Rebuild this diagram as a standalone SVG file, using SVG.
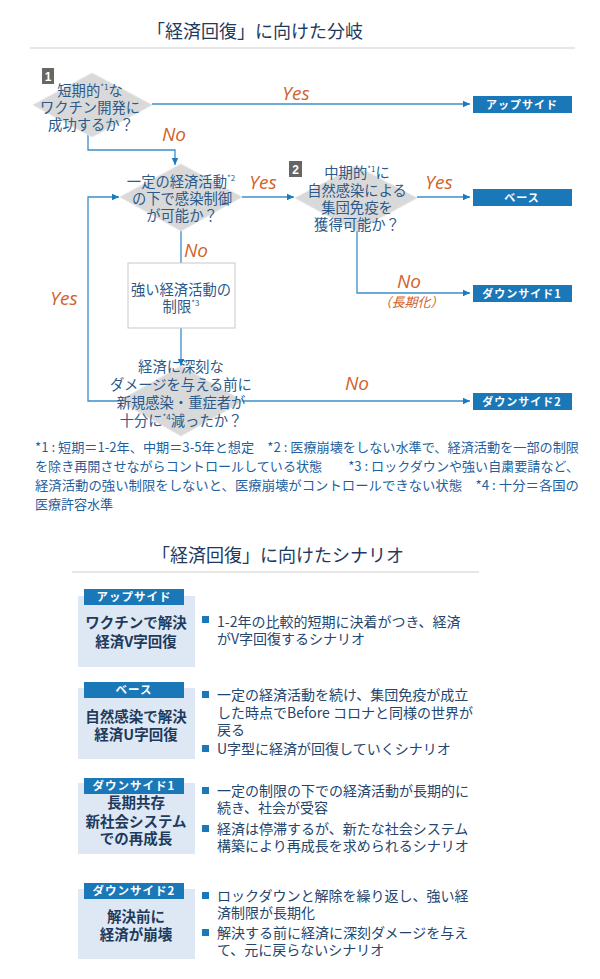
<svg xmlns="http://www.w3.org/2000/svg" width="600" height="979" viewBox="0 0 600 979">
<style>
text{font-family:"Noto Sans CJK JP","Noto Sans",sans-serif}
.title{font-size:18px;fill:#1e3a5c;text-anchor:middle}
.rule{stroke:#cfcfcf;stroke-width:1.2}
.dia{fill:#d9d9d9;stroke:#e6e6e6;stroke-width:1}
.dt{font-size:14.3px;fill:#2b5a8a;text-anchor:middle}
.sup{font-size:8px}
.lbl{font-family:"Open Sans","Liberation Sans",sans-serif;font-style:italic;font-size:19px;fill:#d2622a;text-anchor:middle}
.sub{font-size:13px;fill:#d2622a;text-anchor:middle;font-style:italic}
.con{fill:none;stroke:#3a8fc8;stroke-width:1.3}
.ob{fill:#1a78b8}
.ot{font-size:11px;font-weight:bold;fill:#fff;text-anchor:middle;letter-spacing:1px}
.num{fill:#666}
.nt{font-size:12px;font-weight:bold;fill:#fff;text-anchor:middle;font-family:"Liberation Sans",sans-serif}
.fn{font-size:13px;fill:#1f5fa0}
.sbox{fill:#dde8f4}
.tab{fill:#1a78b8}
.tt{font-size:11.5px;font-weight:bold;fill:#fff;text-anchor:middle;letter-spacing:1px}
.st{font-size:14.5px;font-weight:bold;fill:#1e3a5c;text-anchor:middle}
.bt{font-size:14px;fill:#24466e}
.bul{fill:#1a78b8}
.wbox{fill:#fff;stroke:#c8c8c8;stroke-width:1}
</style>
<defs>
<marker id="ah" markerWidth="8" markerHeight="8" refX="7" refY="4" orient="auto" markerUnits="userSpaceOnUse">
<path d="M0,0.8 L7,4 L0,7.2 Z" fill="#1a7abf"/>
</marker>
</defs>

<text class="title" x="255" y="38">「経済回復」に向けた分岐</text>
<line class="rule" x1="30" y1="48" x2="575" y2="48"/>

<g id="connectors">
<polyline class="con" points="152,104 470,104" marker-end="url(#ah)"/>
<polyline class="con" points="88,134 88,150 175,150 175,165" marker-end="url(#ah)"/>
<polyline class="con" points="242,197 294,197" marker-end="url(#ah)"/>
<polyline class="con" points="417,197 470,197" marker-end="url(#ah)"/>
<polyline class="con" points="181,231 181,263"/>
<polyline class="con" points="357,230 357,293 470,293" marker-end="url(#ah)"/>
<polyline class="con" points="181,328 181,366" marker-end="url(#ah)"/>
<polyline class="con" points="181,401 88,401 88,197 119,197" marker-end="url(#ah)"/>
<polyline class="con" points="181,401 470,401" marker-end="url(#ah)"/>
</g>

<g id="labels">
<text class="lbl" x="296" y="100">Yes</text>
<text class="lbl" x="174" y="141">No</text>
<text class="lbl" x="263" y="189">Yes</text>
<text class="lbl" x="196" y="257">No</text>
<text class="lbl" x="439" y="189">Yes</text>
<text class="lbl" x="409" y="288">No</text>
<text class="sub" x="411" y="307">（長期化）</text>
<text class="lbl" x="64" y="305">Yes</text>
<text class="lbl" x="357" y="390">No</text>
</g>

<g id="q1">
<polygon class="dia" points="33,105 92,73 152,105 92,137"/>
<rect class="num" x="42" y="68" width="12" height="16"/>
<text class="nt" x="48" y="81">1</text>
<text class="dt" x="90" y="96">短期的<tspan class="sup" dy="-6">*1</tspan><tspan dy="6">な</tspan></text>
<text class="dt" x="90" y="113">ワクチン開発に</text>
<text class="dt" x="91" y="130">成功するか？</text>
</g>

<g id="q2">
<polygon class="dia" points="120,197 181,164 242,197 181,231"/>
<text class="dt" x="181" y="187">一定の経済活動<tspan class="sup" dy="-6">*2</tspan></text>
<text class="dt" x="182" y="204">の下で感染制御</text>
<text class="dt" x="182" y="221">が可能か？</text>
</g>

<g id="q3">
<polygon class="dia" points="295,198 356,166 417,198 356,231"/>
<rect class="num" x="289" y="161" width="13" height="16"/>
<text class="nt" x="295.5" y="174">2</text>
<text class="dt" x="357" y="178">中期的<tspan class="sup" dy="-6">*1</tspan><tspan dy="6">に</tspan></text>
<text class="dt" x="357" y="196">自然感染による</text>
<text class="dt" x="357" y="213">集団免疫を</text>
<text class="dt" x="357" y="230">獲得可能か？</text>
</g>

<g id="restrict">
<rect class="wbox" x="128" y="263" width="107" height="65"/>
<text class="dt" x="181" y="295">強い経済活動の</text>
<text class="dt" x="181" y="312">制限<tspan class="sup" dy="-6">*3</tspan></text>
</g>

<g id="q4">
<polygon class="dia" points="119,401 181,366 243,401 181,436"/>
<text class="dt" x="181" y="372">経済に深刻な</text>
<text class="dt" x="181" y="390">ダメージを与える前に</text>
<text class="dt" x="181" y="408">新規感染・重症者が</text>
<text class="dt" x="181" y="426">十分に<tspan class="sup" dy="-6">*4</tspan><tspan dy="6">減ったか？</tspan></text>
</g>

<g id="out-up">
<rect class="ob" x="473" y="96" width="99" height="17"/>
<text class="ot" x="522" y="109">アップサイド</text>
</g>
<g id="out-base">
<rect class="ob" x="473" y="189" width="99" height="17"/>
<text class="ot" x="522" y="202">ベース</text>
</g>
<g id="out-down1">
<rect class="ob" x="473" y="285" width="99" height="17"/>
<text class="ot" x="522" y="298">ダウンサイド1</text>
</g>
<g id="out-down2">
<rect class="ob" x="473" y="393" width="99" height="17"/>
<text class="ot" x="522" y="406">ダウンサイド2</text>
</g>

<g id="footnotes">
<text class="fn" x="35" y="452" textLength="544" lengthAdjust="spacingAndGlyphs">*1 : 短期＝1-2年、中期＝3-5年と想定　*2 : 医療崩壊をしない水準で、経済活動を一部の制限</text>
<text class="fn" x="35" y="471" textLength="544" lengthAdjust="spacingAndGlyphs">を除き再開させながらコントロールしている状態　　*3 : ロックダウンや強い自粛要請など、</text>
<text class="fn" x="35" y="490" textLength="544" lengthAdjust="spacingAndGlyphs">経済活動の強い制限をしないと、医療崩壊がコントロールできない状態　*4 : 十分＝各国の</text>
<text class="fn" x="35" y="509">医療許容水準</text>
</g>

<text class="title" x="278" y="562">「経済回復」に向けたシナリオ</text>
<line class="rule" x1="72" y1="572" x2="479" y2="572"/>

<g id="sc-up">
<rect class="sbox" x="78" y="596" width="117" height="71"/>
<rect class="tab" x="84" y="589" width="100" height="16"/>
<text class="tt" x="134" y="601">アップサイド</text>
<text class="st" x="136" y="628">ワクチンで解決</text>
<text class="st" x="136" y="647">経済V字回復</text>
<rect class="bul" x="202" y="616" width="7" height="7"/>
<text class="bt" x="217" y="627">1-2年の比較的短期に決着がつき、経済</text>
<text class="bt" x="217" y="644">がV字回復するシナリオ</text>
</g>

<g id="sc-base">
<rect class="sbox" x="78" y="688" width="117" height="71"/>
<rect class="tab" x="84" y="682" width="100" height="16"/>
<text class="tt" x="134" y="694">ベース</text>
<text class="st" x="136" y="722">自然感染で解決</text>
<text class="st" x="136" y="740">経済U字回復</text>
<rect class="bul" x="202" y="691" width="7" height="7"/>
<text class="bt" x="217" y="700">一定の経済活動を続け、集団免疫が成立</text>
<text class="bt" x="217" y="718">した時点でBefore コロナと同様の世界が</text>
<text class="bt" x="217" y="735">戻る</text>
<rect class="bul" x="202" y="745" width="7" height="7"/>
<text class="bt" x="217" y="754">U字型に経済が回復していくシナリオ</text>
</g>

<g id="sc-down1">
<rect class="sbox" x="78" y="783" width="117" height="71"/>
<rect class="tab" x="84" y="778" width="100" height="16"/>
<text class="tt" x="134" y="790">ダウンサイド1</text>
<text class="st" x="136" y="808">長期共存</text>
<text class="st" x="136" y="827">新社会システム</text>
<text class="st" x="136" y="844">での再成長</text>
<rect class="bul" x="202" y="787" width="7" height="7"/>
<text class="bt" x="217" y="796">一定の制限の下での経済活動が長期的に</text>
<text class="bt" x="217" y="813">続き、社会が受容</text>
<rect class="bul" x="202" y="825" width="7" height="7"/>
<text class="bt" x="217" y="834">経済は停滞するが、新たな社会システム</text>
<text class="bt" x="217" y="851">構築により再成長を求められるシナリオ</text>
</g>

<g id="sc-down2">
<rect class="sbox" x="78" y="889" width="117" height="70"/>
<rect class="tab" x="84" y="883" width="100" height="16"/>
<text class="tt" x="134" y="895">ダウンサイド2</text>
<text class="st" x="136" y="922">解決前に</text>
<text class="st" x="136" y="940">経済が崩壊</text>
<rect class="bul" x="202" y="892" width="7" height="7"/>
<text class="bt" x="217" y="901">ロックダウンと解除を繰り返し、強い経</text>
<text class="bt" x="217" y="918">済制限が長期化</text>
<rect class="bul" x="202" y="929" width="7" height="7"/>
<text class="bt" x="217" y="938">解決する前に経済に深刻ダメージを与え</text>
<text class="bt" x="217" y="955">て、元に戻らないシナリオ</text>
</g>
</svg>
